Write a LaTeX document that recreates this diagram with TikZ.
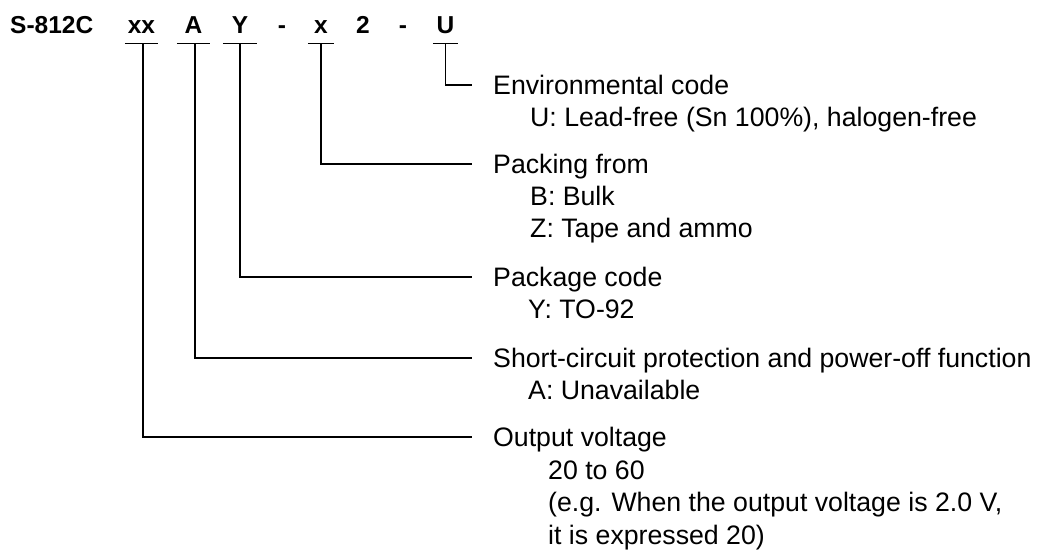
\documentclass[tikz,border=0pt]{standalone}
\usepackage{fontspec}
\setmainfont{Liberation Sans}
\usetikzlibrary{positioning}

\tikzset{
  code/.style={font=\fontsize{24.5}{29}\selectfont\bfseries, inner xsep=0pt, inner ysep=10pt,
    text height=17.5pt, text depth=0pt, anchor=base},
  title/.style={font=\fontsize{26.7}{32}\selectfont, inner sep=0pt, text height=19pt,
    text depth=0pt, anchor=base west},
  detail/.style={font=\fontsize{26.7}{32}\selectfont, inner sep=0pt, anchor=base west},
  lead/.style={line width=1.3pt},
  branch/.style={lead, shorten >=21pt},
}

\begin{document}
\begin{tikzpicture}[x=1pt, y=-1pt]
            \useasboundingbox (0,0) rectangle (1040,549);

            % Part number
            \node[code, anchor=base west] (head) at (10,33) {S-812C};
            \node[code, minimum width=33pt] (cxx) at (141.5,33) {xx};
            \node[code, minimum width=33pt] (cA) at (193.5,33) {A};
            \node[code, minimum width=34pt] (cY) at (240,33) {Y};
            \node[code] (dashA) at (282,33) {-};
            \node[code, minimum width=26pt] (cx) at (321,33) {x};
            \node[code] (ctwo) at (363,33) {2};
            \node[code] (dashB) at (403,33) {-};
            \node[code, minimum width=25pt] (cU) at (445.5,33) {U};

            % Descriptions
            \node[title] (env) at (493,94.5) {Environmental code};
            \node[detail] (envU) at (530,126.5) {U: Lead-free (Sn 100\%), halogen-free};
            \node[title] (pack) at (493,173.5) {Packing from};
            \node[detail] (packB) at (530,205.5) {B: Bulk};
            \node[detail] (packZ) at (530,237.5) {Z: Tape and ammo};
            \node[title] (pkg) at (493,286.5) {Package code};
            \node[detail] (pkgY) at (528,318.5) {Y: TO-92};
            \node[title] (prot) at (493,367.5) {Short-circuit protection and power-off function};
            \node[detail] (protA) at (528,399.5) {A: Unavailable};
            \node[title] (volt) at (493,446.5) {Output voltage};
            \node[detail] (voltR) at (548,479) {20 to 60};
            \node[detail] (voltE) at (548,511.5) {(e.g. When the output voltage is 2.0 V,};
            \node[detail] (voltF) at (548,544) {it is expressed 20)};

            % Underlines
            \foreach \c in {cxx, cA, cY, cx, cU}
              \draw[lead] (\c.south west) -- (\c.south east);

            % Leaders
            \draw[branch] (cU.south) |- (env.west);
            \draw[branch] (cx.south) |- (pack.west);
            \draw[branch] (cY.south) |- (pkg.west);
            \draw[branch] ([xshift=1.5pt]cA.south) |- (prot.west);
            \draw[branch] ([xshift=1.5pt]cxx.south) |- (volt.west);
        \end{tikzpicture}
\end{document}
